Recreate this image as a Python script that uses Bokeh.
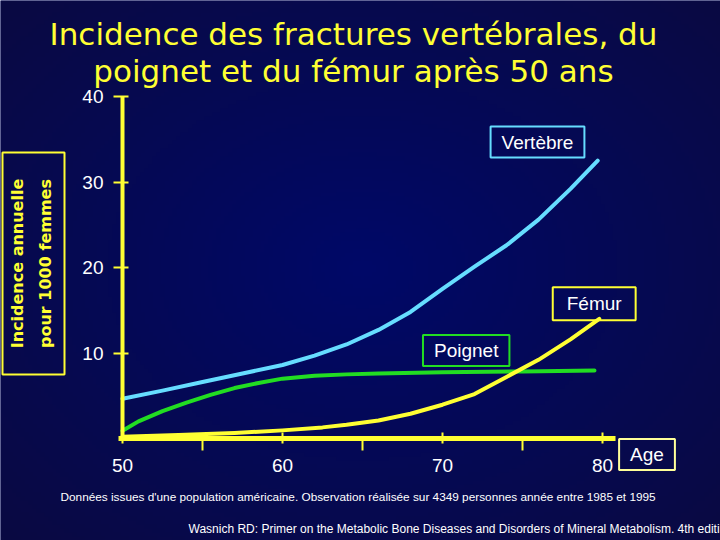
import math
import numpy as np
from bokeh.plotting import figure
from bokeh.models import Range1d, FixedTicker, Label, LinearAxis, BoxAnnotation
from bokeh.embed import file_html
from bokeh.resources import INLINE

# ---- data ----
ages_vertebre = [50, 52.5, 55, 57.5, 60, 62, 64, 66, 68, 70, 72, 74, 76, 78, 79.7]
vals_vertebre = [4.65, 5.6, 6.6, 7.6, 8.6, 9.7, 11.0, 12.7, 14.8, 17.5, 20.1, 22.6, 25.6, 29.2, 32.5]

ages_poignet = [50, 51, 52.5, 54, 55.5, 57, 58.5, 60, 62, 64, 66, 70, 75, 79.5]
vals_poignet = [0.9, 2.0, 3.2, 4.2, 5.1, 5.9, 6.5, 7.0, 7.35, 7.5, 7.6, 7.75, 7.85, 7.95]

ages_femur = [50, 53.5, 57, 60, 62.5, 64, 66, 68, 70, 72, 74, 76, 78, 79.8]
vals_femur = [0.2, 0.4, 0.65, 0.95, 1.3, 1.6, 2.1, 2.9, 3.95, 5.2, 7.2, 9.2, 11.6, 14.0]

x_ticks = [50, 60, 70, 80]
x_minor_ticks = [55, 65, 75]
y_ticks = [10, 20, 30, 40]

title_lines = ["Incidence des fractures vertébrales, du",
               "poignet et du fémur après 50 ans"]
y_label = "Incidence annuelle\npour 1000 femmes"
x_label = "Age"
series_names = ["Vertèbre", "Poignet", "Fémur"]
note1 = ("Données issues d'une population américaine. Observation réalisée sur "
         "4349 personnes année entre 1985 et 1995")
note2 = ("Wasnich RD: Primer on the Metabolic Bone Diseases and Disorders of "
         "Mineral Metabolism. 4th editi")

BG = "#020860"
YELLOW = "#ffff33"
BLUE = "#66ddff"
GREEN = "#22dd22"
WHITE = "#ffffff"

X0, X1 = 50 - 122 / 16, 50 + 598 / 16
Y0, Y1 = -102 / 8.55, 438 / 8.55

# frame covers the whole window: 16 px per year, 8.55 px per unit
p = figure(width=720, height=540, output_backend="svg", toolbar_location=None,
           x_range=Range1d(X0, X1), y_range=Range1d(Y0, Y1),
           x_axis_location=None, y_axis_location=None, min_border=0,
           background_fill_color=BG, border_fill_color=BG,
           outline_line_color=None)
p.grid.visible = False

# soft radial background shading (decoration only)
H, W = 135, 180
yy, xx = np.mgrid[0:H, 0:W]
r = np.sqrt(((xx - W / 2) / (W / 2)) ** 2 + ((yy - H / 2) / (H / 2)) ** 2) / math.sqrt(2)
r = np.clip(r, 0, 1)
center = np.array([0, 8, 104], dtype=float)
corner = np.array([10, 10, 66], dtype=float)
rgb = center[None, None, :] * (1 - r[..., None]) + corner[None, None, :] * r[..., None]
img = np.zeros((H, W), dtype=np.uint32)
view = img.view(dtype=np.uint8).reshape((H, W, 4))
view[..., 0] = rgb[..., 0].astype(np.uint8)
view[..., 1] = rgb[..., 1].astype(np.uint8)
view[..., 2] = rgb[..., 2].astype(np.uint8)
view[..., 3] = 255
p.image_rgba(image=[img], x=X0, y=Y0, dw=X1 - X0, dh=Y1 - Y0, level="image")

# curves
p.line(ages_vertebre, vals_vertebre, line_color=BLUE, line_width=4, line_cap="round", line_join="round")
p.line(ages_poignet, vals_poignet, line_color=GREEN, line_width=4, line_cap="round", line_join="round")
p.line(ages_femur, vals_femur, line_color=YELLOW, line_width=4, line_cap="round", line_join="round")

# x axis
xa = LinearAxis(fixed_location=0, bounds=(49.75, 80.8),
                ticker=FixedTicker(ticks=x_ticks, minor_ticks=x_minor_ticks),
                axis_line_color=YELLOW, axis_line_width=5,
                major_tick_line_color=YELLOW, major_tick_line_width=2,
                major_tick_in=6, major_tick_out=5,
                minor_tick_line_color=YELLOW, minor_tick_line_width=2,
                minor_tick_in=0, minor_tick_out=12,
                major_label_text_color=WHITE, major_label_text_font="Liberation Sans",
                major_label_text_font_size="19px", major_label_standoff=8)
p.add_layout(xa, "below")

# y axis
ya = LinearAxis(fixed_location=50, bounds=(0, 40),
                ticker=FixedTicker(ticks=y_ticks),
                axis_line_color=YELLOW, axis_line_width=4,
                major_tick_line_color=YELLOW, major_tick_line_width=2,
                major_tick_in=6, major_tick_out=9,
                minor_tick_line_color=None,
                major_label_text_color=WHITE, major_label_text_font="Liberation Sans",
                major_label_text_font_size="19px", major_label_text_baseline="top",
                major_label_standoff=10)
p.add_layout(ya, "left")

# title (screen units: frame == window, origin bottom-left)
for txt, sy in zip(title_lines, [507, 470]):
    p.add_layout(Label(x=353, y=sy, x_units="screen", y_units="screen", text=txt,
                       text_align="center", text_baseline="middle",
                       text_font="DejaVu Sans", text_font_size="31px",
                       text_color=YELLOW))

# y label: box + rotated two-line text
p.add_layout(BoxAnnotation(left=2, right=64, bottom=166, top=388,
                           left_units="screen", right_units="screen",
                           bottom_units="screen", top_units="screen",
                           fill_color=None, fill_alpha=0,
                           line_color=YELLOW, line_alpha=1.0, line_width=2))
p.add_layout(Label(x=31, y=277, x_units="screen", y_units="screen", text=y_label,
                   angle=math.pi / 2, text_align="center", text_baseline="middle",
                   text_font="DejaVu Sans", text_font_style="bold",
                   text_font_size="16px", text_color=YELLOW, text_line_height=1.45))

# series labels
def boxed(txt, sx, sy, color, pad=(11, 5)):
    p.add_layout(Label(x=sx, y=sy, x_units="screen", y_units="screen", text=txt,
                       text_align="center", text_baseline="middle",
                       text_font="Liberation Sans", text_font_size="19px",
                       text_color=WHITE, border_line_color=color, border_line_width=2,
                       background_fill_color=None, padding=pad))

boxed(series_names[0], 537, 398.5, BLUE)
boxed(series_names[1], 465.7, 190, GREEN)
boxed(series_names[2], 593.7, 236.7, YELLOW, pad=(14, 6))
boxed(x_label, 646.5, 86, "#ffff99")

# footnotes
p.add_layout(Label(x=60, y=44, x_units="screen", y_units="screen", text=note1,
                   text_align="left", text_baseline="middle",
                   text_font="Liberation Sans", text_font_size="11.8px", text_color=WHITE))
p.add_layout(Label(x=188, y=12, x_units="screen", y_units="screen", text=note2,
                   text_align="left", text_baseline="middle",
                   text_font="Liberation Sans", text_font_size="12px", text_color=WHITE))

open("out.html", "w").write(file_html(p, INLINE))
